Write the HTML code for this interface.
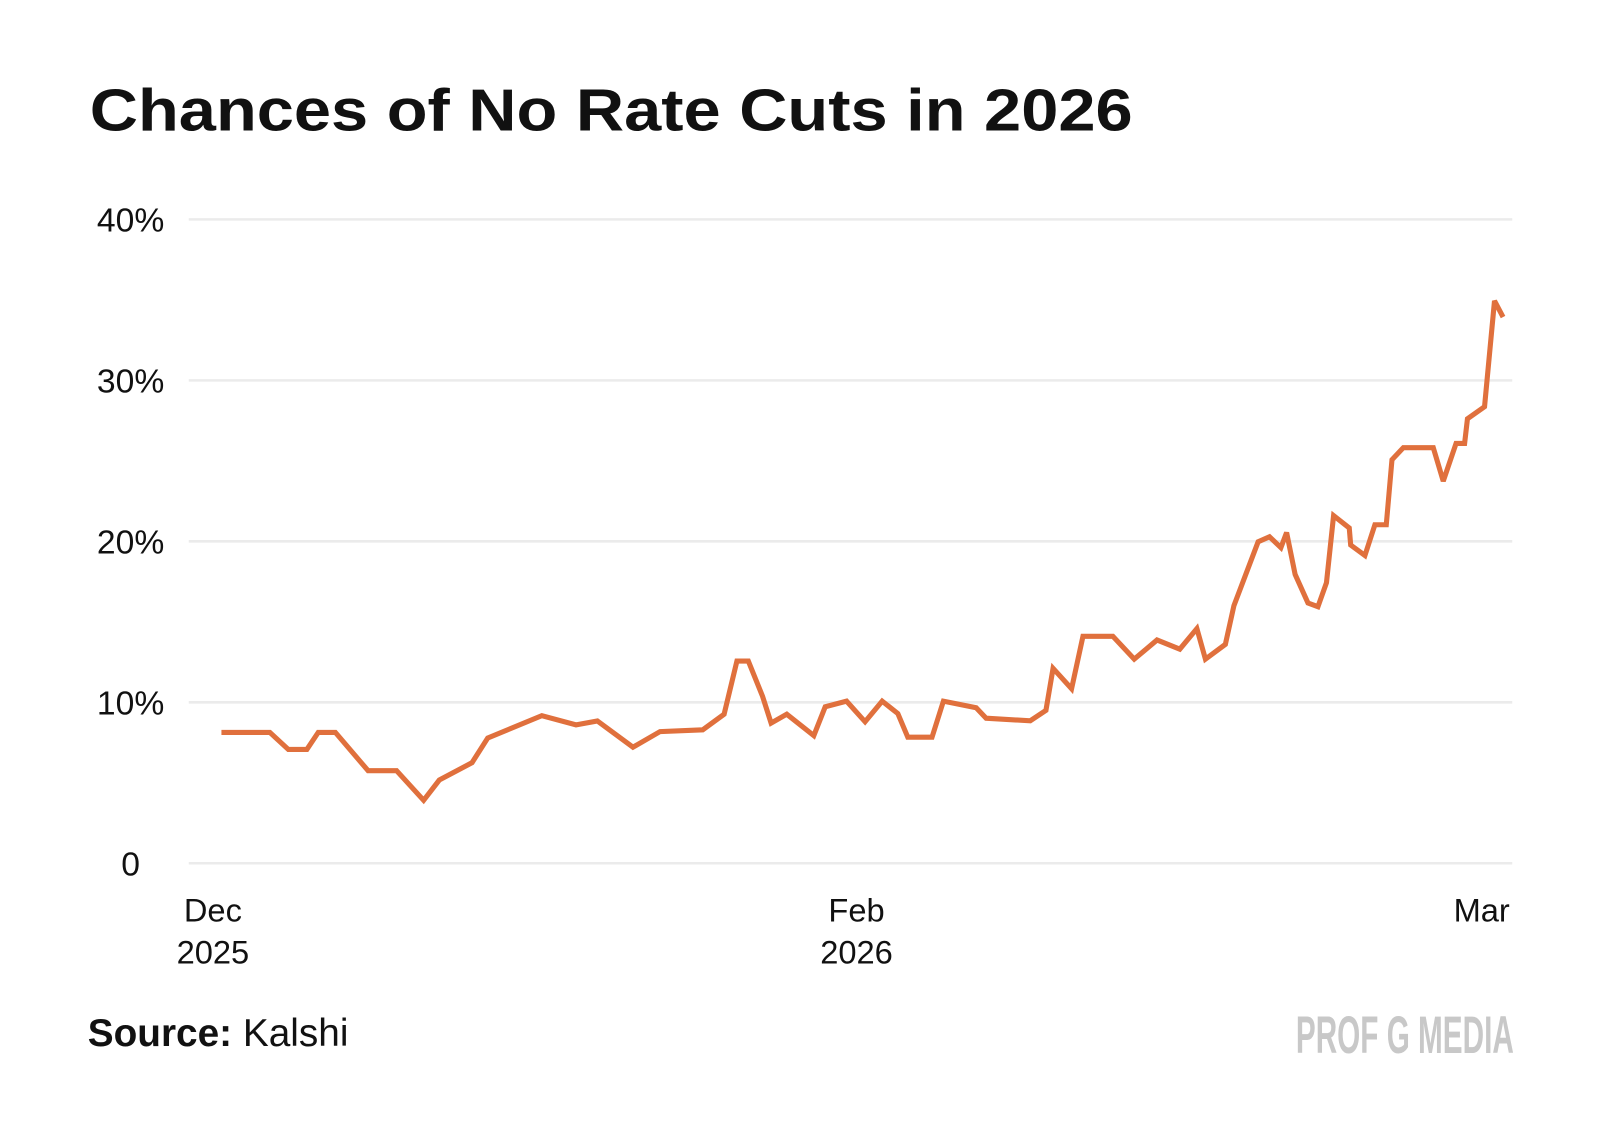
<!DOCTYPE html>
<html><head><meta charset="utf-8"><style>
html,body{margin:0;padding:0;background:#fff;}
svg{display:block;font-family:"Liberation Sans",sans-serif;}
</style></head><body>
<svg id="chart" width="1600" height="1134" viewBox="0 0 1600 1134">
<g transform="scale(1.0204)">
<text x="88" y="128" font-size="58" font-weight="bold" fill="#111" textLength="1022" lengthAdjust="spacingAndGlyphs">Chances of No Rate Cuts in 2026</text>
<g id="grid"></g><g id="yticks"></g><g id="xticks"></g><g id="series"></g>
<text x="86" y="1025" font-size="38" fill="#111"><tspan font-weight="bold">Source:</tspan> Kalshi</text>
<text x="1270" y="1032" font-size="52" font-weight="bold" fill="#c8c8c8" transform="translate(1270 0) scale(0.56 1) translate(-1270 0)">PROF G MEDIA</text>
</g>
</svg>
<script>
const days=[0,3.4,4.7,6.0,6.8,8.0,10.3,12.3,14.2,15.3,17.6,18.7,22.5,24.9,26.4,28.9,30.8,33.8,35.3,36.2,37.0,38.0,38.6,39.7,41.6,42.4,43.9,45.2,46.4,47.5,48.2,49.9,50.7,53.0,53.7,56.8,57.9,58.4,59.7,60.5,62.6,64.1,65.7,67.3,68.5,69.1,70.5,71.1,72.8,73.6,74.4,74.8,75.4,76.3,77.0,77.6,78.1,79.2,79.3,80.3,81.0,81.8,82.2,83.0,85.1,85.8,86.7,87.3,87.5,88.7,89.4,90.0];
const values=[8.13,8.13,7.07,7.07,8.13,8.13,5.75,5.75,3.91,5.17,6.25,7.78,9.17,8.60,8.84,7.21,8.18,8.29,9.26,12.56,12.56,10.37,8.71,9.26,7.93,9.72,10.07,8.79,10.07,9.30,7.83,7.83,10.07,9.66,9.01,8.85,9.50,12.11,10.84,14.1,14.1,12.68,13.87,13.30,14.58,12.68,13.60,16.00,19.97,20.28,19.61,20.55,17.94,16.17,15.94,17.43,21.6,20.83,19.77,19.12,21.03,21.03,25.07,25.82,25.82,23.74,26.08,26.08,27.61,28.36,34.94,33.93];
const yTicks=[0,10,20,30,40];
const yTickLabels=["0","10%","20%","30%","40%"];
const xTickDays=[-0.6,44.6,88.5];
const xTickLine1=["Dec","Feb","Mar"];
const xTickLine2=["2025","2026",""];

const X=d=>217+(d-0)*(1473-217)/90;
const Y=v=>846-v*(846-215)/40;
const NS="http://www.w3.org/2000/svg";
function mk(tag,attrs,parent){const e=document.createElementNS(NS,tag);for(const k in attrs)e.setAttribute(k,attrs[k]);parent.appendChild(e);return e;}
const grid=document.getElementById('grid'),yt=document.getElementById('yticks'),xt=document.getElementById('xticks'),ser=document.getElementById('series');
yTicks.forEach((v,i)=>{
  const l=mk('line',{x1:185,x2:1482,y1:Y(v),y2:Y(v),stroke:'#ebebeb','stroke-width':2.5},grid);
  
  
  const t=mk('text',{x:128,y:Y(v)+12,'font-size':33,'text-anchor':'middle',fill:'#111'},yt);
  t.textContent=yTickLabels[i];
  
  
});
xTickDays.forEach((d,i)=>{
  const t=mk('text',{x:X(d),y:903,'font-size':32,'text-anchor':'middle',fill:'#111'},xt);
  t.textContent=xTickLine1[i];
  
  
  if(xTickLine2[i]){const t2=mk('text',{x:X(d),y:944,'font-size':32,'text-anchor':'middle',fill:'#111'},xt);
  t2.textContent=xTickLine2[i];
  
  }
});
const p=mk('polyline',{points:days.map((d,i)=>X(d)+','+Y(values[i])).join(' '),fill:'none',stroke:'#E0703D','stroke-width':5,'stroke-linejoin':'miter','stroke-miterlimit':3},ser);


</script>
</body></html>
